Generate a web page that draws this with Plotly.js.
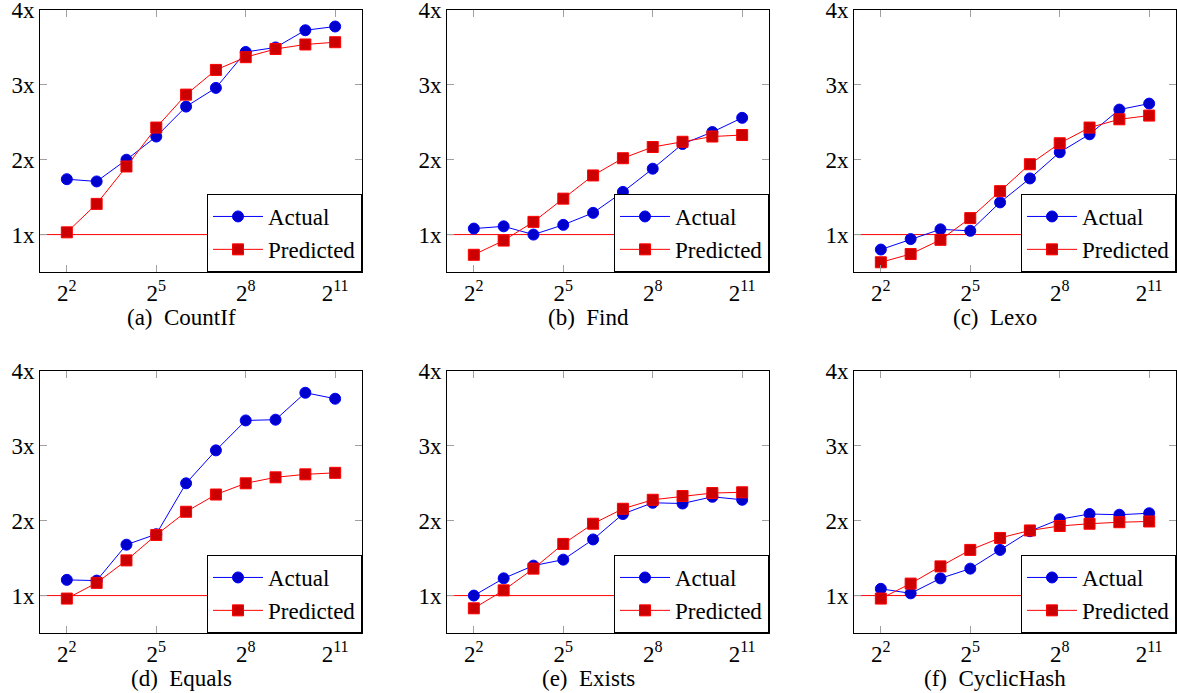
<!DOCTYPE html>
<html>
<head>
<meta charset="utf-8">
<script src="https://cdn.plot.ly/plotly-3.0.1.min.js"></script>
<style>
html,body{margin:0;padding:0;background:#fff;}
#chart{width:1177px;height:693px;}
</style>
</head>
<body>
<div id="chart"></div>
<script>
// Input sizes (2^2 .. 2^11)
const sizes = [4, 8, 16, 32, 64, 128, 256, 512, 1024, 2048];
const panelNames = ["(a)  CountIf", "(b)  Find", "(c)  Lexo", "(d)  Equals", "(e)  Exists", "(f)  CyclicHash"];

const countIfActual    = [1.74, 1.71, 2.00, 2.31, 2.71, 2.96, 3.44, 3.50, 3.73, 3.78];
const countIfPredicted = [1.03, 1.41, 1.91, 2.43, 2.87, 3.20, 3.37, 3.48, 3.54, 3.57];
const findActual       = [1.08, 1.11, 1.00, 1.13, 1.29, 1.57, 1.88, 2.21, 2.37, 2.56];
const findPredicted    = [0.73, 0.92, 1.17, 1.48, 1.79, 2.02, 2.17, 2.24, 2.31, 2.33];
const lexoActual       = [0.80, 0.94, 1.07, 1.05, 1.43, 1.75, 2.10, 2.34, 2.67, 2.75];
const lexoPredicted    = [0.63, 0.74, 0.93, 1.22, 1.58, 1.94, 2.22, 2.43, 2.54, 2.59];
const equalsActual     = [1.21, 1.20, 1.68, 1.82, 2.50, 2.94, 3.34, 3.35, 3.71, 3.63];
const equalsPredicted  = [0.96, 1.17, 1.47, 1.81, 2.12, 2.35, 2.50, 2.58, 2.62, 2.64];
const existsActual     = [1.00, 1.23, 1.40, 1.48, 1.75, 2.09, 2.24, 2.23, 2.32, 2.28];
const existsPredicted  = [0.83, 1.07, 1.36, 1.69, 1.96, 2.16, 2.28, 2.33, 2.37, 2.38];
const cyclicActual     = [1.09, 1.03, 1.23, 1.36, 1.61, 1.86, 2.02, 2.09, 2.08, 2.10];
const cyclicPredicted  = [0.96, 1.16, 1.39, 1.61, 1.77, 1.87, 1.93, 1.96, 1.98, 1.99];

const xTickVals = [4, 32, 256, 2048];
const xTickText = ["2<sup>2</sup>", "2<sup>5</sup>", "2<sup>8</sup>", "2<sup>11</sup>"];
const yTickVals = [1, 2, 3, 4];
const yTickText = ["1x", "2x", "3x", "4x"];

const actualSeries = [countIfActual, findActual, lexoActual, equalsActual, existsActual, cyclicActual];
const predictedSeries = [countIfPredicted, findPredicted, lexoPredicted, equalsPredicted, existsPredicted, cyclicPredicted];

const W = 1177, H = 693;
const colsPx = [[40, 362], [447, 769], [854, 1176]];
const rowsPx = [[10, 272], [371, 633]];
const SERIF = 'Liberation Serif';

const traces = [];
const layout = {
  width: W, height: H,
  margin: {l: 0, r: 0, t: 0, b: 0},
  paper_bgcolor: "#ffffff", plot_bgcolor: "#ffffff",
  font: {family: SERIF, size: 22, color: "#000000"},
  shapes: [], annotations: [],
  showlegend: true
};

for (let i = 0; i < 6; i++) {
  const r = Math.floor(i / 3), c = i % 3;
  const sfx = i === 0 ? "" : String(i + 1);
  const xa = "x" + sfx, ya = "y" + sfx;
  const lg = "legend" + sfx;
  const [xl, xr] = colsPx[c];
  const [yt, yb] = rowsPx[r];

  traces.push({
    x: sizes, y: actualSeries[i], xaxis: xa, yaxis: ya, legend: lg,
    name: "Actual", mode: "lines+markers", type: "scatter",
    line: {color: "#0000ff", width: 1},
    marker: {symbol: "circle", size: 11, color: "#0000cc", line: {color: "#0000ff", width: 1}}
  });
  traces.push({
    x: sizes, y: predictedSeries[i], xaxis: xa, yaxis: ya, legend: lg,
    name: "Predicted", mode: "lines+markers", type: "scatter",
    line: {color: "#ff0000", width: 1},
    marker: {symbol: "square", size: 11, color: "#cc0000", line: {color: "#ff0000", width: 1}}
  });

  layout["xaxis" + sfx] = {
    type: "log", anchor: ya,
    domain: [xl / W, xr / W],
    range: [1.1 * Math.LN2 / Math.LN10, 11.9 * Math.LN2 / Math.LN10],
    tickmode: "array", tickvals: xTickVals, ticktext: xTickText,
    ticks: "inside", ticklen: 7, tickcolor: "#a0a0a0", tickwidth: 1,
    showline: true, linecolor: "#000", linewidth: 1, mirror: "ticks",
    showgrid: false, zeroline: false, ticklabeloverflow: "allow",
    tickfont: {family: SERIF, size: 23, color: "#000000"}
  };
  layout["yaxis" + sfx] = {
    anchor: xa,
    domain: [1 - yb / H, 1 - yt / H],
    range: [0.5, 4.0005],
    tickmode: "array", tickvals: yTickVals, ticktext: yTickText,
    ticks: "inside", ticklen: 7, tickcolor: "#a0a0a0", tickwidth: 1,
    showline: true, linecolor: "#000", linewidth: 1, mirror: "ticks",
    showgrid: false, zeroline: false, ticklabeloverflow: "allow",
    tickfont: {family: SERIF, size: 23, color: "#000000"}
  };
  layout.shapes.push({
    type: "line", xref: xa + " domain", yref: ya,
    x0: 0, x1: 1, y0: 1, y1: 1, layer: "below",
    line: {color: "#ff0000", width: 1}
  });
  layout[lg] = {
    x: xr / W, xanchor: "right", y: 1 - yb / H, yanchor: "bottom",
    bgcolor: "#ffffff", bordercolor: "#000000", borderwidth: 1,
    font: {family: SERIF, size: 23, color: "#000000"},
    tracegroupgap: 0, itemwidth: 50
  };
  layout.annotations.push({
    xref: "paper", yref: "paper",
    x: ((xl + xr) / 2 - 20) / W, y: 1 - (yb + 45) / H,
    xanchor: "center", yanchor: "middle", showarrow: false,
    text: panelNames[i], font: {family: SERIF, size: 23, color: "#000000"}
  });
}

Plotly.newPlot("chart", traces, layout, {displayModeBar: false, staticPlot: true}).then(function () {
  document.querySelectorAll("#chart text, #chart tspan").forEach(function (t) {
    t.style.setProperty("font-family", "'Liberation Serif', 'Times New Roman', serif", "important");
  });
});
</script>
</body>
</html>
